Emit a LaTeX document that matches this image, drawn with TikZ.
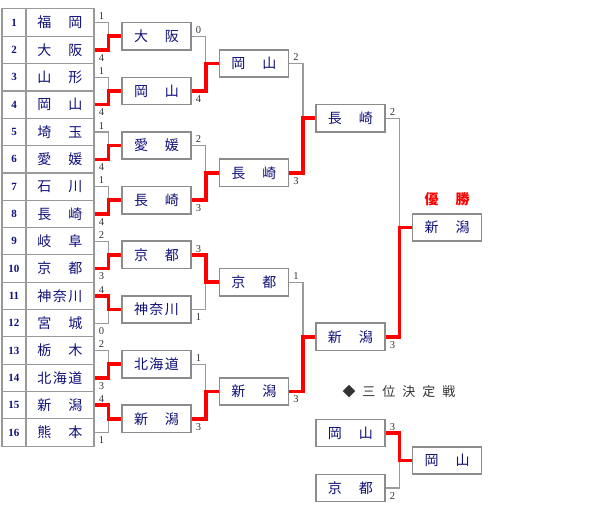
\documentclass[tikz,border=0pt]{standalone}
\usepackage{fontspec}
\setmainfont{Liberation Serif}
\newfontfamily\jpfont{Noto Sans CJK JP}
\usetikzlibrary{positioning}
\definecolor{navy}{HTML}{10107A}
\definecolor{win}{HTML}{FF0000}
\definecolor{cellln}{HTML}{9A9A9A}
\definecolor{boxln}{HTML}{8C8C8C}
\definecolor{score}{HTML}{333333}
\definecolor{titlec}{HTML}{333333}
\newcommand{\tw}[2]{#1\hspace{17pt}#2}
\newcommand{\thr}[3]{#1\hspace{1.5pt}#2\hspace{1.5pt}#3}
\tikzset{
  every node/.style={font=\jpfont},
  cell/.style={draw=cellln,line width=1.1pt,minimum height=27.33pt,inner sep=0pt},
  numcell/.style={cell,minimum width=24pt,text=navy,font=\rmfamily\bfseries\fontsize{11}{13}\selectfont},
  namecell/.style={cell,minimum width=68pt,text=navy,font=\jpfont\fontsize{14}{16}\selectfont},
  team/.style={draw=boxln,line width=1.5pt,fill=white,minimum width=69pt,minimum height=27.3pt,
               inner sep=0pt,text=navy,font=\jpfont\fontsize{14}{16}\selectfont},
  sc/.style={font=\rmfamily\fontsize{10.5}{12}\selectfont,text=score,inner sep=1pt},
  hi/.style={label={[sc,anchor=south west,xshift=3pt,yshift=1.5pt]east:#1}},
  lo/.style={label={[sc,anchor=north west,xshift=3pt,yshift=-3pt]east:#1}},
  gl/.style={draw=cellln,line width=1.3pt},
  rl/.style={draw=win,line width=3.5pt},
  ttl/.style={font=\jpfont\fontsize{13}{15}\selectfont,text=titlec},
  champ/.style={font=\jpfont\bfseries\fontsize{14}{16}\selectfont,text=win},
}

\begin{document}
\begin{tikzpicture}[x=1pt,y=-1pt]
\useasboundingbox (0,0) rectangle (600,510);

% entry table
\node[numcell] (n1)  at (14,22.6)  {1};
\node[numcell] (n2)  at (14,49.9)  {2};
\node[numcell] (n3)  at (14,77.3)  {3};
\node[numcell] (n4)  at (14,104.6) {4};
\node[numcell] (n5)  at (14,131.9) {5};
\node[numcell] (n6)  at (14,159.3) {6};
\node[numcell] (n7)  at (14,186.6) {7};
\node[numcell] (n8)  at (14,213.9) {8};
\node[numcell] (n9)  at (14,241.2) {9};
\node[numcell] (n10) at (14,268.6) {10};
\node[numcell] (n11) at (14,295.9) {11};
\node[numcell] (n12) at (14,323.2) {12};
\node[numcell] (n13) at (14,350.6) {13};
\node[numcell] (n14) at (14,377.9) {14};
\node[numcell] (n15) at (14,405.2) {15};
\node[numcell] (n16) at (14,432.6) {16};

\node[namecell,hi=1] (r1)  at (60,22.6)  {\tw{福}{岡}};
\node[namecell,lo=4] (r2)  at (60,49.9)  {\tw{大}{阪}};
\node[namecell,hi=1] (r3)  at (60,77.3)  {\tw{山}{形}};
\node[namecell,lo=4] (r4)  at (60,104.6) {\tw{岡}{山}};
\node[namecell,hi=1] (r5)  at (60,131.9) {\tw{埼}{玉}};
\node[namecell,lo=4] (r6)  at (60,159.3) {\tw{愛}{媛}};
\node[namecell,hi=1] (r7)  at (60,186.6) {\tw{石}{川}};
\node[namecell,lo=4] (r8)  at (60,213.9) {\tw{長}{崎}};
\node[namecell,hi=2] (r9)  at (60,241.2) {\tw{岐}{阜}};
\node[namecell,lo=3] (r10) at (60,268.6) {\tw{京}{都}};
\node[namecell,hi=4] (r11) at (60,295.9) {\thr{神}{奈}{川}};
\node[namecell,lo=0] (r12) at (60,323.2) {\tw{宮}{城}};
\node[namecell,hi=2] (r13) at (60,350.6) {\tw{栃}{木}};
\node[namecell,lo=3] (r14) at (60,377.9) {\thr{北}{海}{道}};
\node[namecell,hi=4] (r15) at (60,405.2) {\tw{新}{潟}};
\node[namecell,lo=1] (r16) at (60,432.6) {\tw{熊}{本}};

% second round
\node[team,hi=0] (b1) at (156.5,36.25)  {\tw{大}{阪}};
\node[team,lo=4] (b2) at (156.5,90.95)  {\tw{岡}{山}};
\node[team,hi=2] (b3) at (156.5,145.6)  {\tw{愛}{媛}};
\node[team,lo=3] (b4) at (156.5,200.25) {\tw{長}{崎}};
\node[team,hi=3] (b5) at (156.5,254.9)  {\tw{京}{都}};
\node[team,lo=1] (b6) at (156.5,309.55) {\thr{神}{奈}{川}};
\node[team,hi=1] (b7) at (156.5,364.25) {\thr{北}{海}{道}};
\node[team,lo=3] (b8) at (156.5,418.9)  {\tw{新}{潟}};

% quarter and semi finals
\node[team,hi=2] (c1) at (253.8,63.6)  {\tw{岡}{山}};
\node[team,lo=3] (c2) at (253.8,172.9) {\tw{長}{崎}};
\node[team,hi=1] (c3) at (253.8,282.2) {\tw{京}{都}};
\node[team,lo=3] (c4) at (253.8,391.6) {\tw{新}{潟}};
\node[team,hi=2] (d1) at (350.4,118.25) {\tw{長}{崎}};
\node[team,lo=3] (d2) at (350.4,336.9)  {\tw{新}{潟}};

% champion
\node[champ] (cup) at (447,199) {\tw{優}{勝}};
\node[team] (f) at (447,227.6) {\tw{新}{潟}};

% third place
\node[ttl] (third) at (399,391.7) {◆\hspace{7pt}三\hspace{7pt}位\hspace{7pt}決\hspace{7pt}定\hspace{7pt}戦};
\node[team,hi=3] (t1) at (350.4,433) {\tw{岡}{山}};
\node[team,lo=2] (t2) at (350.4,488) {\tw{京}{都}};
\node[team] (t3) at (447,460.5) {\tw{岡}{山}};

% brackets
\draw[gl] (r1.east)  -- ++(14,0) |- (r2.east);
\draw[gl] (r3.east)  -- ++(14,0) |- (r4.east);
\draw[gl] (r5.east)  -- ++(14,0) |- (r6.east);
\draw[gl] (r7.east)  -- ++(14,0) |- (r8.east);
\draw[gl] (r9.east)  -- ++(14,0) |- (r10.east);
\draw[gl] (r11.east) -- ++(14,0) |- (r12.east);
\draw[gl] (r13.east) -- ++(14,0) |- (r14.east);
\draw[gl] (r15.east) -- ++(14,0) |- (r16.east);
\draw[gl] (b1.east) -- ++(14,0) |- (b2.east);
\draw[gl] (b3.east) -- ++(14,0) |- (b4.east);
\draw[gl] (b5.east) -- ++(14,0) |- (b6.east);
\draw[gl] (b7.east) -- ++(14,0) |- (b8.east);
\draw[gl] (c1.east) -- ++(14,0) |- (c2.east);
\draw[gl] (c3.east) -- ++(14,0) |- (c4.east);
\draw[gl] (d1.east) -- ++(14,0) |- (d2.east);
\draw[gl] (t1.east) -- ++(14,0) |- (t2.east);

% winners
\draw[rl] (r2.east)  -- ++(14,0) |- (b1.west);
\draw[rl] (r4.east)  -- ++(14,0) |- (b2.west);
\draw[rl] (r6.east)  -- ++(14,0) |- (b3.west);
\draw[rl] (r8.east)  -- ++(14,0) |- (b4.west);
\draw[rl] (r10.east) -- ++(14,0) |- (b5.west);
\draw[rl] (r11.east) -- ++(14,0) |- (b6.west);
\draw[rl] (r14.east) -- ++(14,0) |- (b7.west);
\draw[rl] (r15.east) -- ++(14,0) |- (b8.west);
\draw[rl] (b2.east) -- ++(14,0) |- (c1.west);
\draw[rl] (b4.east) -- ++(14,0) |- (c2.west);
\draw[rl] (b5.east) -- ++(14,0) |- (c3.west);
\draw[rl] (b8.east) -- ++(14,0) |- (c4.west);
\draw[rl] (c2.east) -- ++(14,0) |- (d1.west);
\draw[rl] (c4.east) -- ++(14,0) |- (d2.west);
\draw[rl] (d2.east) -- ++(14,0) |- (f.west);
\draw[rl] (t1.east) -- ++(14,0) |- (t3.west);
\end{tikzpicture}
\end{document}
